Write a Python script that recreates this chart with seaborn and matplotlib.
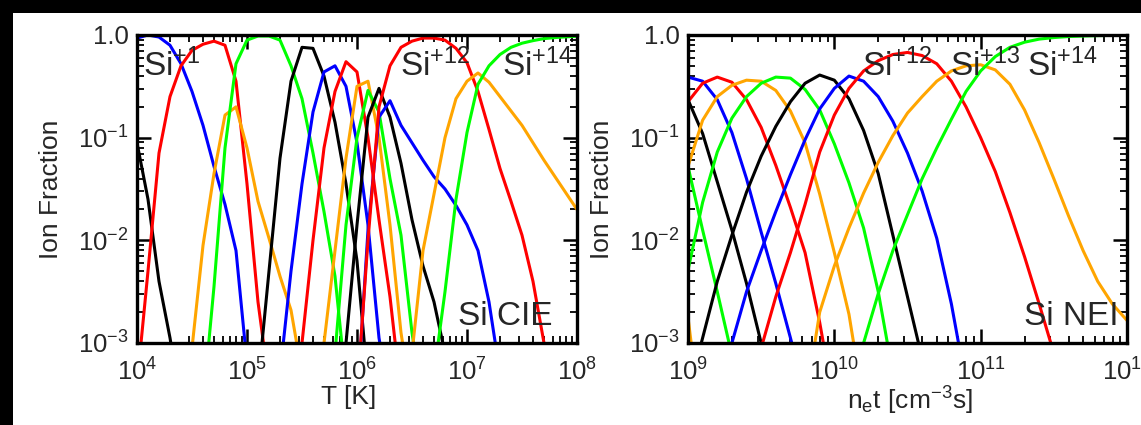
import numpy as np
import pandas as pd
import seaborn as sns
import matplotlib
matplotlib.use("Agg")
import matplotlib.pyplot as plt
from matplotlib.patches import Rectangle
from matplotlib.ticker import LogLocator, FuncFormatter, NullFormatter

# ---------------- data (log10 ion fraction on 0.1-dex grids) ----------------
cie_ions = ["Si+0", "Si+1", "Si+2", "Si+3", "Si+4", "Si+5", "Si+6", "Si+7",
            "Si+8", "Si+9", "Si+10", "Si+11", "Si+12", "Si+13", "Si+14"]
cie_start = [4.0, 4.0, 4.0, 4.4, 4.6, 5.1, 5.3, 5.4, 5.6, 5.7, 5.8, 5.9, 5.9, 6.4, 6.6]
cie_si0 = [-1.05, -1.6, -2.4, -2.95, -3.6]
cie_si1 = [-0.03, -0.0, -0.02, -0.1, -0.28, -0.55, -0.88, -1.28, -1.65, -2.1, -3.2]
cie_si2 = [-3.4, -2.3, -1.15, -0.6, -0.3, -0.15, -0.09, -0.06, -0.1, -0.45, -1.45, -2.6, -3.4]
cie_si3 = [-3.6, -3.05, -2.05, -1.35, -0.78, -0.7, -1.1, -1.62, -1.98, -2.35, -2.68, -3.3]
cie_si4 = [-3.6, -2.45, -1.1, -0.28, -0.05, -0.01, -0.01, -0.05, -0.3, -0.62, -1.15, -1.72, -2.35, -3.4]
cie_si5 = [-3.4, -2.3, -1.2, -0.45, -0.12, -0.13, -0.4, -0.85, -1.45, -2.2, -3.4]
cie_si6 = [-3.3, -2.3, -1.45, -0.75, -0.36, -0.3, -0.5, -1.05, -1.85, -2.95, -3.6]
cie_si7 = [-3.8, -3.0, -2.0, -1.1, -0.55, -0.26, -0.36, -1.0, -1.8, -2.55, -3.5]
cie_si8 = [-3.9, -3.0, -2.1, -1.2, -0.5, -0.45, -1.0, -1.85, -2.9, -3.6]
cie_si9 = [-3.9, -3.1, -1.85, -1.0, -0.54, -0.75, -1.4, -1.95, -2.9, -3.6]
cie_si10 = [-3.6, -3.0, -1.85, -0.8, -0.52, -0.8, -1.25, -1.8, -2.25, -2.6, -3.1]
cie_si11 = [-4.0, -3.6, -1.9, -0.8, -0.64, -0.88, -1.05, -1.22, -1.38, -1.5, -1.66, -1.85,
            -2.1, -2.6, -3.3]
cie_si12 = [-4.0, -3.5, -2.0, -0.7, -0.3, -0.12, -0.06, -0.03, -0.03, -0.05, -0.13, -0.27,
            -0.55, -0.92, -1.3, -1.62, -1.95, -2.4, -3.0, -3.7]
cie_si13 = [-4.0, -3.1, -2.1, -1.55, -1.0, -0.62, -0.45, -0.37, -0.46, -0.6, -0.74, -0.88,
            -1.05, -1.22, -1.38, -1.54, -1.7]
cie_si14 = [-4.0, -3.3, -2.5, -1.6, -0.95, -0.48, -0.3, -0.19, -0.12, -0.08, -0.055, -0.035,
            -0.025, -0.018, -0.012]
cie_vals = [cie_si0, cie_si1, cie_si2, cie_si3, cie_si4, cie_si5, cie_si6, cie_si7,
            cie_si8, cie_si9, cie_si10, cie_si11, cie_si12, cie_si13, cie_si14]

nei_ions = ["Si+3", "Si+4", "Si+5", "Si+6", "Si+7", "Si+8", "Si+9", "Si+10",
            "Si+11", "Si+12", "Si+13", "Si+14"]
nei_start = [9.0, 9.0, 9.0, 9.0, 9.0, 9.0, 9.0, 9.0, 9.2, 9.4, 9.8, 10.1]
nei_si3 = [-2.75, -3.9]
nei_si4 = [-1.28, -1.9, -2.5, -3.12]
nei_si5 = [-0.63, -0.96, -1.43, -1.9, -2.42, -3.0, -3.6]
nei_si6 = [-0.41, -0.45, -0.63, -0.95, -1.4, -1.92, -2.42, -2.95, -3.5]
nei_si7 = [-0.65, -0.47, -0.41, -0.46, -0.63, -0.9, -1.27, -1.68, -2.12, -2.8, -3.6]
nei_si8 = [-1.28, -0.83, -0.6, -0.49, -0.44, -0.45, -0.54, -0.74, -1.05, -1.55, -2.12, -2.72, -3.6]
nei_si9 = [-2.29, -1.63, -1.14, -0.81, -0.6, -0.47, -0.41, -0.42, -0.53, -0.73, -1.06, -1.44,
           -1.88, -2.5, -3.3]
nei_si10 = [-3.5, -2.95, -2.4, -1.95, -1.53, -1.18, -0.89, -0.65, -0.47, -0.39, -0.44, -0.62,
            -0.93, -1.35, -1.95, -2.55, -3.15]
nei_si11 = [-3.5, -3.0, -2.5, -2.1, -1.72, -1.36, -1.02, -0.72, -0.52, -0.4, -0.45, -0.6,
            -0.84, -1.15, -1.52, -1.98, -2.62, -3.4]
nei_si12 = [-3.6, -3.05, -2.55, -2.12, -1.65, -1.14, -0.78, -0.52, -0.35, -0.25, -0.19, -0.17,
            -0.2, -0.28, -0.45, -0.7, -1.0, -1.33, -1.73, -2.16, -2.62, -3.1]
nei_si13 = [-3.6, -2.7, -2.25, -1.88, -1.54, -1.24, -0.98, -0.76, -0.6, -0.45, -0.35, -0.3,
            -0.29, -0.34, -0.48, -0.73, -1.05, -1.4, -1.76, -2.1, -2.4, -2.62, -2.78]
nei_si14 = [-3.6, -3.0, -2.52, -2.1, -1.75, -1.4, -1.1, -0.82, -0.55, -0.35, -0.21, -0.12,
            -0.07, -0.04, -0.025, -0.015, -0.01, -0.006, -0.004, -0.003]
nei_vals = [nei_si3, nei_si4, nei_si5, nei_si6, nei_si7, nei_si8, nei_si9, nei_si10,
            nei_si11, nei_si12, nei_si13, nei_si14]

color_cycle = ["#000000", "#0000ff", "#ff0000", "#ffa500", "#00ff00"]
cie_labels = [("Si$^{+1}$", 0.014), ("Si$^{+12}$", 0.598), ("Si$^{+14}$", 0.83)]
nei_labels = [("Si$^{+12}$", 0.396), ("Si$^{+13}$", 0.597), ("Si$^{+14}$", 0.772)]


def build_frame(ions, starts, vals):
    rows = []
    for ion, s, v in zip(ions, starts, vals):
        for k, lv in enumerate(v):
            rows.append({"ion": ion, "x": 10 ** round(s + 0.1 * k, 2), "frac": 10 ** lv})
    return pd.DataFrame(rows)


def ion_color(ion):
    n = int(ion.split("+")[1])
    return color_cycle[n % 5]


cie_df = build_frame(cie_ions, cie_start, cie_vals)
nei_df = build_frame(nei_ions, nei_start, nei_vals)

# ---------------- style ----------------
sns.set_theme(style="white")
plt.rcParams["font.family"] = ["Liberation Sans", "DejaVu Sans"]
plt.rcParams["mathtext.fontset"] = "custom"
plt.rcParams["mathtext.rm"] = "Liberation Sans"
plt.rcParams["mathtext.it"] = "Liberation Sans:italic"
plt.rcParams["mathtext.bf"] = "Liberation Sans:bold"
plt.rcParams["mathtext.default"] = "regular"

W, H = 1141, 425
fig = plt.figure(figsize=(W / 100, H / 100), dpi=100, facecolor="white")

ax1 = fig.add_axes([137 / W, 82 / H, 440 / W, 308 / H])
ax2 = fig.add_axes([688 / W, 82 / H, 439 / W, 308 / H])


def yfmt(v, pos):
    e = int(round(np.log10(v)))
    return "1.0" if e == 0 else "10$^{%d}$" % e


def xfmt(v, pos):
    e = int(round(np.log10(v)))
    return "10$^{%d}$" % e


for ax, df, ions, xlim in [(ax1, cie_df, cie_ions, (1e4, 1e8)),
                           (ax2, nei_df, nei_ions, (1e9, 1e12))]:
    pal = {ion: ion_color(ion) for ion in ions}
    sns.lineplot(data=df, x="x", y="frac", hue="ion", hue_order=ions, palette=pal,
                 estimator=None, sort=False, legend=False, linewidth=2.2, ax=ax)
    ax.set_xscale("log")
    ax.set_yscale("log")
    ax.set_xlim(*xlim)
    ax.set_ylim(1e-3, 1.0)
    ax.xaxis.set_major_locator(LogLocator(base=10, numticks=20))
    ax.yaxis.set_major_locator(LogLocator(base=10, numticks=20))
    ax.xaxis.set_minor_locator(LogLocator(base=10, subs=np.arange(2, 10), numticks=50))
    ax.yaxis.set_minor_locator(LogLocator(base=10, subs=np.arange(2, 10), numticks=50))
    ax.xaxis.set_minor_formatter(NullFormatter())
    ax.yaxis.set_minor_formatter(NullFormatter())
    ax.yaxis.set_major_formatter(FuncFormatter(yfmt))
    ax.xaxis.set_major_formatter(FuncFormatter(xfmt))
    ax.tick_params(which="both", direction="in", top=True, right=True,
                   bottom=True, left=True, color="black")
    ax.tick_params(which="major", length=10, width=1.8, labelsize=18.5)
    ax.tick_params(axis="x", which="major", pad=11)
    ax.tick_params(axis="y", which="major", pad=6)
    ax.tick_params(which="minor", length=5, width=1.3)
    for sp in ax.spines.values():
        sp.set_linewidth(2.4)
        sp.set_color("black")
    ax.set_ylabel("Ion Fraction", fontsize=19)
    ax.yaxis.set_label_coords(-0.168, 0.5)
    ax.set_facecolor("white")

ax1.set_xlabel("T [K]", fontsize=19)
ax1.xaxis.set_label_coords(0.48, -0.135)
ax2.set_xlabel("n$_e$t [cm$^{-3}$s]", fontsize=19)
ax2.xaxis.set_label_coords(0.505, -0.135)

for txt, xf in cie_labels:
    ax1.text(xf, 0.865, txt, transform=ax1.transAxes, fontsize=24,
             ha="left", va="baseline")
ax1.text(0.945, 0.058, "Si CIE", transform=ax1.transAxes, fontsize=24,
         ha="right", va="baseline")
for txt, xf in nei_labels:
    ax2.text(xf, 0.865, txt, transform=ax2.transAxes, fontsize=24,
             ha="left", va="baseline")
ax2.text(0.98, 0.058, "Si NEI", transform=ax2.transAxes, fontsize=24,
         ha="right", va="baseline")

# black frame strips (left and top edges of the image)
fig.add_artist(Rectangle((0, 0), 13 / W, 1, transform=fig.transFigure,
                         facecolor="black", edgecolor="none"))
fig.add_artist(Rectangle((0, 1 - 13 / H), 1, 13 / H, transform=fig.transFigure,
                         facecolor="black", edgecolor="none"))

fig.savefig("out.png", dpi=100, facecolor="white")
